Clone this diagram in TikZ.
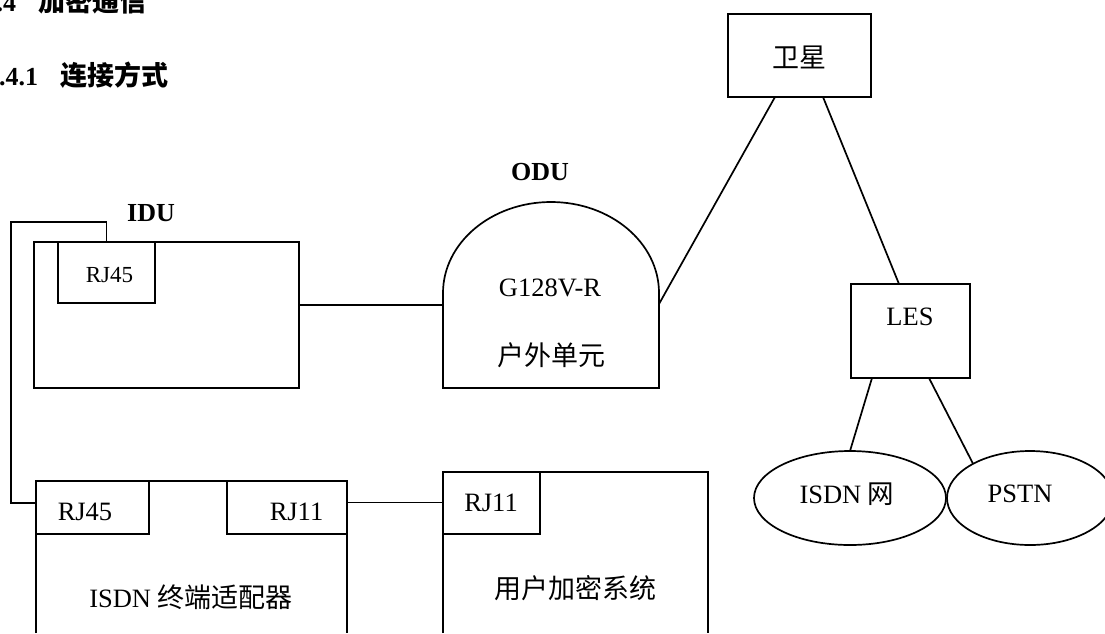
\documentclass[tikz,border=0pt]{standalone}
\usepackage{fontspec}
\setmainfont{Liberation Serif}
\newfontfamily\cjk{Noto Sans CJK SC}
\usetikzlibrary{shapes.geometric,calc}
\begin{document}
\begin{tikzpicture}[x=1pt,y=-1pt,line width=1.7pt,
  box/.style={draw,rectangle,inner sep=0pt,outer sep=0pt},
  txt/.style={inner sep=0pt,font=\fontsize{26.5}{30}\selectfont},
  smalltxt/.style={inner sep=0pt,font=\fontsize{23}{27}\selectfont},
  cjktxt/.style={inner sep=0pt,font=\fontsize{27}{31}\selectfont\cjk},
  boldtxt/.style={inner sep=0pt,font=\fontsize{26}{29}\selectfont\bfseries},
  hdlat/.style={inner sep=0pt,font=\fontsize{26}{30}\selectfont\bfseries},
  hdcjk/.style={inner sep=0pt,font=\fontsize{27}{31}\selectfont\cjk\bfseries},
  oval/.style={draw,ellipse,inner sep=0pt,outer sep=0pt,minimum height=94pt}]
\useasboundingbox (0,0) rectangle (1105,633);

% headings
\node[hdlat,anchor=base east] (h1a) at (17,11) {.4};
\node[hdcjk,anchor=base west] (h1b) at (38,11) {加密通信};
\node[hdlat,anchor=base east] (h2a) at (39,85) {.4.1};
\node[hdcjk,anchor=base west] (h2b) at (60,85) {连接方式};

% IDU
\node[box,minimum width=265pt,minimum height=146pt] (idu) at (166.5,315) {};
\node[box,minimum width=97pt,minimum height=61pt] (idurj) at (106.5,272.5) {};
\node[smalltxt] (idurjtxt) at (109.5,275) {RJ45};
\node[boldtxt] (idulbl) at (151,213) {IDU};

% ODU
\node[inner sep=0pt,outer sep=0pt,minimum width=216pt,minimum height=186pt] (odu) at (551,295) {};
\draw (odu.south west) -- ++(0,-95) arc[start angle=180,end angle=0,x radius=108pt,y radius=91pt] -- (odu.south east) -- cycle;
\node[boldtxt] (odulbl) at (540,172) {ODU};
\node[txt] (odut1) at (550,288) {G128V-R};
\node[cjktxt] (odut2) at (551,355) {户外单元};

% satellite and LES
\node[box,minimum width=143pt,minimum height=83pt] (sat) at (799.5,55.5) {};
\node[cjktxt] (sattxt) at (799.5,57) {卫星};
\node[box,minimum width=119pt,minimum height=94pt] (les) at (910.5,331) {};
\node[txt] (lestxt) at (910,317) {LES};

% networks
\node[oval,minimum width=192pt] (isdnnet) at (850,498) {};
\node[txt] (isdnnettxt) at (847,494) {ISDN {\cjk 网}};
\node[oval,minimum width=166pt] (pstn) at (1030,498) {};
\node[txt] (pstntxt) at (1020,494) {PSTN};

% ISDN terminal adapter
\draw (36,633) -- (36,481) -- (347,481) -- (347,633);
\node[box,minimum width=113pt,minimum height=53pt] (isdnrj45) at (92.5,507.5) {};
\node[txt] (isdnrj45txt) at (85,512) {RJ45};
\node[box,minimum width=120pt,minimum height=53pt] (isdnrj11) at (287,507.5) {};
\node[txt] (isdnrj11txt) at (296.5,512) {RJ11};
\node[inner sep=0pt,font=\fontsize{26.5}{30}\selectfont] (isdntxt) at (191,597) {ISDN {\fontsize{27}{31}\selectfont\cjk 终端适配器}};

% user encryption system
\draw (443,633) -- (443,472) -- (708,472) -- (708,633);
\node[box,minimum width=97pt,minimum height=62pt] (userrj11) at (491.5,503) {};
\node[txt] (userrj11txt) at (491,503) {RJ11};
\node[cjktxt] (usertxt) at (575,588) {用户加密系统};

% connectors
\coordinate (wl) at (11,222);
\draw (idurj.north) |- (wl) |- ([yshift=4.5pt]isdnrj45.west);
\draw ([yshift=10pt]idu.east) coordinate (w1) -- (w1 -| odu.west);
\draw ([yshift=5pt]isdnrj11.east) coordinate (w2) -- (w2 -| userrj11.west);
\draw ([xshift=-24.5pt]sat.south) -- ([yshift=-9pt]odu.east);
\draw ([xshift=23.5pt]sat.south) -- ([xshift=-11.5pt]les.north);
\draw ([xshift=-38.5pt]les.south) -- (isdnnet.north);
\draw ([xshift=18.5pt]les.south) -- (pstn.149);
\end{tikzpicture}
\end{document}
